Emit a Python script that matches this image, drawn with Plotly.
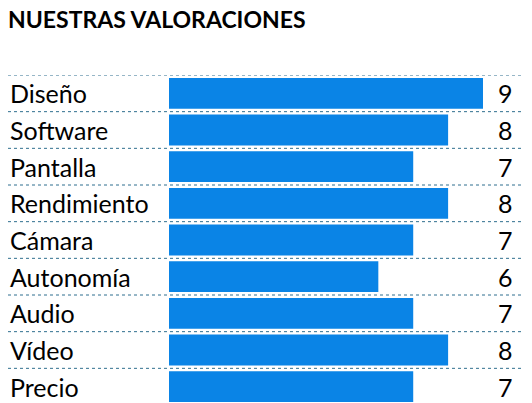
import plotly.graph_objects as go

categories = ["Diseño", "Software", "Pantalla", "Rendimiento", "Cámara",
              "Autonomía", "Audio", "Vídeo", "Precio"]
scores = [9, 8, 7, 8, 7, 6, 7, 8, 7]

FONT = "Lato"
left = 161
plot_w = 314

fig = go.Figure(go.Bar(
    x=scores, y=categories, orientation="h",
    marker=dict(color="#0A84E6", line=dict(width=0)), width=0.84,
))

# dotted separators between rows
for k in range(len(categories) + 1):
    fig.add_shape(type="line", xref="paper", yref="y",
                  x0=-left / plot_w, x1=(532 - left) / plot_w,
                  y0=k - 0.5, y1=k - 0.5,
                  line=dict(color="#2F6F8F", width=1, dash="dot"))

for cat, val in zip(categories, scores):
    fig.add_annotation(x=-left / plot_w, xref="paper", y=cat, text=cat,
                       showarrow=False, xanchor="left",
                       font=dict(family=FONT, size=25, color="black"))
    fig.add_annotation(x=(507 - left) / plot_w, xref="paper", y=cat, text=str(val),
                       showarrow=False, xanchor="right",
                       font=dict(family=FONT, size=25, color="black"))

fig.update_layout(
    width=532, height=403,
    margin=dict(l=left, r=532 - left - plot_w, t=67, b=6),
    plot_bgcolor="white", paper_bgcolor="white",
    showlegend=False,
    title=dict(text="<b>NUESTRAS VALORACIONES</b>", x=0, xanchor="left",
               y=1 - 12 / 403, yanchor="middle",
               font=dict(family=FONT, size=23, color="black")),
    xaxis=dict(range=[0, 9], visible=False, fixedrange=True),
    yaxis=dict(range=[len(categories) - 0.5, -0.5], visible=False),
)

fig.write_html("out.html")
